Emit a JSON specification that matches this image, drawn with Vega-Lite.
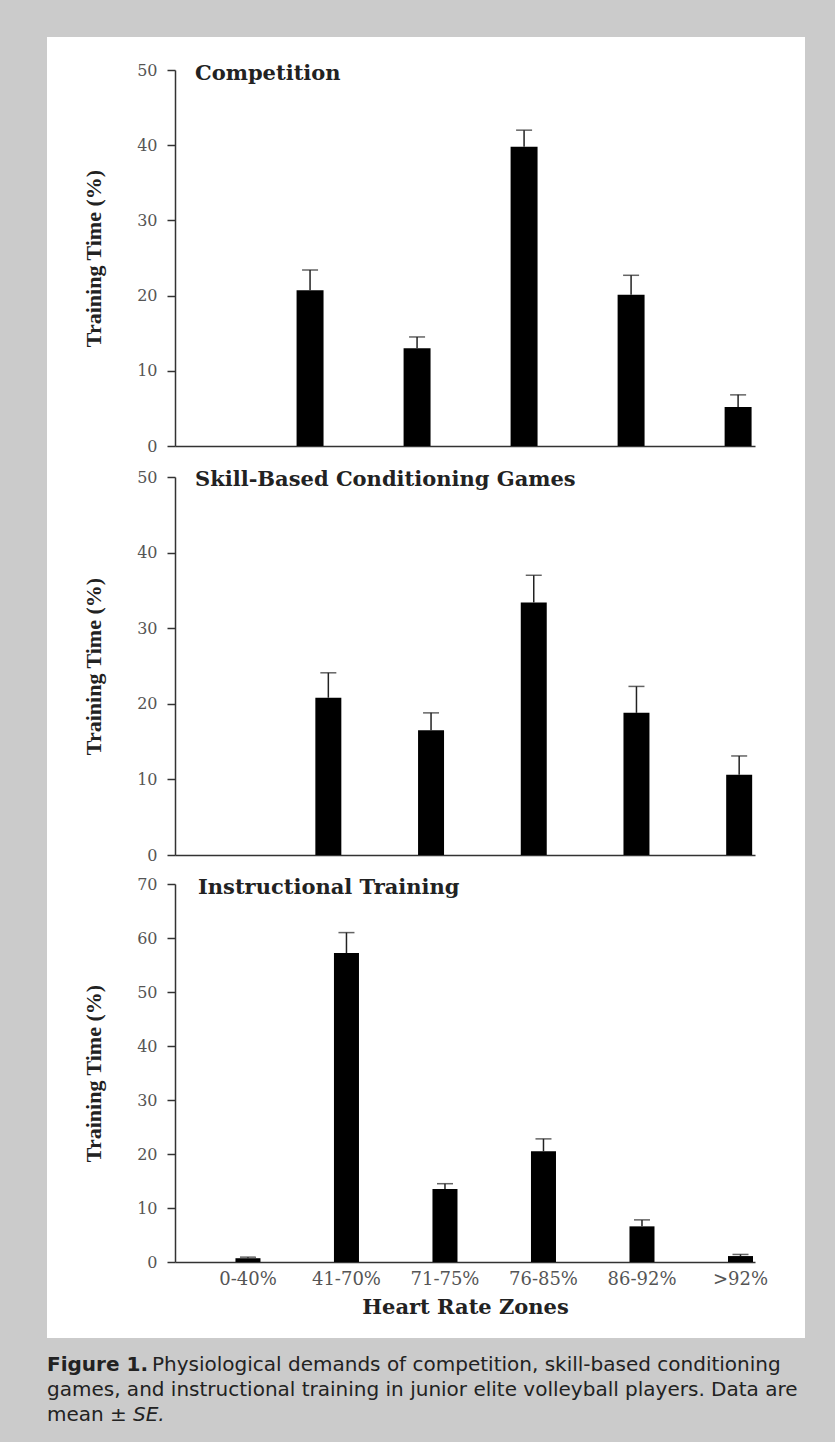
{
  "$schema": "https://vega.github.io/schema/vega-lite/v6.json",
  "background": "#cbcbcb",
  "padding": {"top": 37, "left": 47, "right": 30, "bottom": 0},
  "spacing": 0,
  "config": {
    "view": {"stroke": null},
    "axis": {"grid": false, "domainColor": "#333", "domainWidth": 1.5, "tickColor": "#333", "tickWidth": 1.5, "labelFont": "DejaVu Serif", "labelColor": "#555", "titleColor": "#222", "titleFontWeight": "bold"},
    "axisY": {"labelFontSize": 16, "labelPadding": 10, "tickSize": 8, "titleFont": "Liberation Serif", "titleFontSize": 22, "titlePadding": 31},
    "axisX": {"labelFontSize": 18, "labelPadding": 8, "labelAngle": 0, "titleFont": "DejaVu Serif", "titleFontSize": 21, "titlePadding": 8},
    "title": {"font": "DejaVu Serif", "fontSize": 21, "fontWeight": "bold", "color": "#222", "anchor": "start", "baseline": "alphabetic"}
  },
  "datasets": {
    "zones": [
      {"panel": "Competition", "zone": "41-70%", "mean": 20.7, "upper": 23.4},
      {"panel": "Competition", "zone": "71-75%", "mean": 13.0, "upper": 14.5},
      {"panel": "Competition", "zone": "76-85%", "mean": 39.8, "upper": 42.0},
      {"panel": "Competition", "zone": "86-92%", "mean": 20.1, "upper": 22.7},
      {"panel": "Competition", "zone": ">92%", "mean": 5.2, "upper": 6.8},
      {"panel": "Skill", "zone": "41-70%", "mean": 20.8, "upper": 24.1},
      {"panel": "Skill", "zone": "71-75%", "mean": 16.5, "upper": 18.8},
      {"panel": "Skill", "zone": "76-85%", "mean": 33.4, "upper": 37.0},
      {"panel": "Skill", "zone": "86-92%", "mean": 18.8, "upper": 22.3},
      {"panel": "Skill", "zone": ">92%", "mean": 10.6, "upper": 13.1},
      {"panel": "Instructional", "zone": "0-40%", "mean": 0.7, "upper": 0.9},
      {"panel": "Instructional", "zone": "41-70%", "mean": 57.2, "upper": 61.0},
      {"panel": "Instructional", "zone": "71-75%", "mean": 13.5, "upper": 14.5},
      {"panel": "Instructional", "zone": "76-85%", "mean": 20.5, "upper": 22.8},
      {"panel": "Instructional", "zone": "86-92%", "mean": 6.6, "upper": 7.8},
      {"panel": "Instructional", "zone": ">92%", "mean": 1.1, "upper": 1.4}
    ],
    "caption": [
      {"line": 1, "kind": "bold", "text": "Figure 1."},
      {"line": 1, "kind": "first", "text": "Physiological demands of competition, skill-based conditioning"},
      {"line": 2, "kind": "body", "text": "games, and instructional training in junior elite volleyball players. Data are"},
      {"line": 3, "kind": "body", "text": "mean ±"},
      {"line": 3, "kind": "italic", "text": "SE."}
    ]
  },
  "resolve": {"scale": {"x": "independent", "y": "independent"}},
  "vconcat": [
    {
      "width": 758, "height": 424,
      "view": {"fill": "white", "stroke": null},
      "title": {"text": "Competition", "dx": 148, "offset": -47},
      "data": {"name": "zones"},
      "transform": [{"filter": "datum.panel === 'Competition'"}],
      "encoding": {
        "x": {"field": "zone", "type": "nominal", "sort": null,
          "scale": {"domain": ["0-40%", "41-70%", "71-75%", "76-85%", "86-92%", ">92%"], "range": [128, 708], "paddingInner": 0.748, "paddingOuter": 0.084, "align": 0.81},
          "axis": {"offset": -15, "labels": false, "ticks": false, "title": null}}
      },
      "layer": [
        {"mark": {"type": "bar", "color": "black"},
         "encoding": {"y": {"field": "mean", "type": "quantitative", "title": "Training Time (%)",
           "scale": {"domain": [0, 50], "range": [409, 33], "nice": false},
           "axis": {"offset": -128, "values": [0, 10, 20, 30, 40, 50]}}}},
        {"mark": {"type": "rule", "color": "#222", "strokeWidth": 1.5},
         "encoding": {"y": {"field": "mean", "type": "quantitative", "title": "Training Time (%)"}, "y2": {"field": "upper"}}},
        {"mark": {"type": "tick", "color": "#222", "thickness": 1.5, "size": 16, "orient": "horizontal"},
         "encoding": {"y": {"field": "upper", "type": "quantitative", "title": "Training Time (%)"}}}
      ]
    },
    {
      "width": 758, "height": 408,
      "view": {"fill": "white", "stroke": null},
      "title": {"text": "Skill-Based Conditioning Games", "dx": 148, "offset": -29},
      "data": {"name": "zones"},
      "transform": [{"filter": "datum.panel === 'Skill'"}],
      "encoding": {
        "x": {"field": "zone", "type": "nominal", "sort": null,
          "scale": {"domain": ["0-40%", "41-70%", "71-75%", "76-85%", "86-92%", ">92%"], "range": [128, 708], "paddingInner": 0.747, "paddingOuter": 0.197, "align": 0.93},
          "axis": {"offset": -14, "labels": false, "ticks": false, "title": null}}
      },
      "layer": [
        {"mark": {"type": "bar", "color": "black"},
         "encoding": {"y": {"field": "mean", "type": "quantitative", "title": "Training Time (%)",
           "scale": {"domain": [0, 50], "range": [394, 16], "nice": false},
           "axis": {"offset": -128, "values": [0, 10, 20, 30, 40, 50]}}}},
        {"mark": {"type": "rule", "color": "#222", "strokeWidth": 1.5},
         "encoding": {"y": {"field": "mean", "type": "quantitative", "title": "Training Time (%)"}, "y2": {"field": "upper"}}},
        {"mark": {"type": "tick", "color": "#222", "thickness": 1.5, "size": 16, "orient": "horizontal"},
         "encoding": {"y": {"field": "upper", "type": "quantitative", "title": "Training Time (%)"}}}
      ]
    },
    {
      "width": 758, "height": 469,
      "view": {"fill": "white", "stroke": null},
      "title": {"text": "Instructional Training", "dx": 151, "offset": -29},
      "data": {"name": "zones"},
      "transform": [{"filter": "datum.panel === 'Instructional'"}],
      "encoding": {
        "x": {"field": "zone", "type": "nominal", "sort": null,
          "scale": {"domain": ["0-40%", "41-70%", "71-75%", "76-85%", "86-92%", ">92%"], "range": [128, 708], "paddingInner": 0.746, "paddingOuter": 0.317, "align": 0.968},
          "axis": {"offset": -76, "ticks": false, "title": "Heart Rate Zones"}}
      },
      "layer": [
        {"mark": {"type": "bar", "color": "black"},
         "encoding": {"y": {"field": "mean", "type": "quantitative", "title": "Training Time (%)",
           "scale": {"domain": [0, 70], "range": [393, 15], "nice": false},
           "axis": {"offset": -128, "values": [0, 10, 20, 30, 40, 50, 60, 70]}}}},
        {"mark": {"type": "rule", "color": "#222", "strokeWidth": 1.5},
         "encoding": {"y": {"field": "mean", "type": "quantitative", "title": "Training Time (%)"}, "y2": {"field": "upper"}}},
        {"mark": {"type": "tick", "color": "#222", "thickness": 1.5, "size": 16, "orient": "horizontal"},
         "encoding": {"y": {"field": "upper", "type": "quantitative", "title": "Training Time (%)"}}}
      ]
    },
    {
      "width": 758, "height": 104,
      "data": {"name": "caption"},
      "encoding": {
        "y": {"field": "line", "type": "ordinal", "scale": {"range": [27, 77], "padding": 0}, "axis": null},
        "text": {"field": "text"}
      },
      "layer": [
        {"transform": [{"filter": "datum.kind === 'bold'"}],
         "mark": {"type": "text", "align": "left", "baseline": "middle", "font": "DejaVu Sans", "fontSize": 20, "fontWeight": "bold", "color": "#222"},
         "encoding": {"x": {"value": 0}}},
        {"transform": [{"filter": "datum.kind === 'first'"}],
         "mark": {"type": "text", "align": "left", "baseline": "middle", "font": "DejaVu Sans", "fontSize": 20, "color": "#222", "dx": 105},
         "encoding": {"x": {"value": 0}}},
        {"transform": [{"filter": "datum.kind === 'body'"}],
         "mark": {"type": "text", "align": "left", "baseline": "middle", "font": "DejaVu Sans", "fontSize": 20, "color": "#222"},
         "encoding": {"x": {"value": 0}}},
        {"transform": [{"filter": "datum.kind === 'italic'"}],
         "mark": {"type": "text", "align": "left", "baseline": "middle", "font": "DejaVu Sans", "fontSize": 20, "fontStyle": "italic", "color": "#222", "dx": 86},
         "encoding": {"x": {"value": 0}}}
      ]
    }
  ]
}
